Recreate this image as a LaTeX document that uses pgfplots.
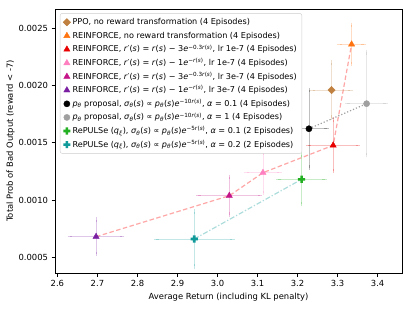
\documentclass[border=0pt]{standalone}
\usepackage{fontspec}
\setmainfont{DejaVu Sans}
\usepackage{pgfplots}
\pgfplotsset{compat=1.18}
\definecolor{cppo}{HTML}{C08040}
\definecolor{corange}{HTML}{FF7410}
\definecolor{cred}{HTML}{E80000}
\definecolor{cpink}{HTML}{FF80C0}
\definecolor{cmag}{HTML}{C41488}
\definecolor{cpur}{HTML}{7A1FA2}
\definecolor{cblack}{HTML}{000000}
\definecolor{cgrey}{HTML}{A0A0A0}
\definecolor{cgreen}{HTML}{22B022}
\definecolor{cteal}{HTML}{119A9A}
\pgfdeclareplotmark{fatplus}{%
  \pgfpathmoveto{\pgfqpoint{-0.36\pgfplotmarksize}{\pgfplotmarksize}}%
  \pgfpathlineto{\pgfqpoint{0.36\pgfplotmarksize}{\pgfplotmarksize}}%
  \pgfpathlineto{\pgfqpoint{0.36\pgfplotmarksize}{0.36\pgfplotmarksize}}%
  \pgfpathlineto{\pgfqpoint{\pgfplotmarksize}{0.36\pgfplotmarksize}}%
  \pgfpathlineto{\pgfqpoint{\pgfplotmarksize}{-0.36\pgfplotmarksize}}%
  \pgfpathlineto{\pgfqpoint{0.36\pgfplotmarksize}{-0.36\pgfplotmarksize}}%
  \pgfpathlineto{\pgfqpoint{0.36\pgfplotmarksize}{-\pgfplotmarksize}}%
  \pgfpathlineto{\pgfqpoint{-0.36\pgfplotmarksize}{-\pgfplotmarksize}}%
  \pgfpathlineto{\pgfqpoint{-0.36\pgfplotmarksize}{-0.36\pgfplotmarksize}}%
  \pgfpathlineto{\pgfqpoint{-\pgfplotmarksize}{-0.36\pgfplotmarksize}}%
  \pgfpathlineto{\pgfqpoint{-\pgfplotmarksize}{0.36\pgfplotmarksize}}%
  \pgfpathlineto{\pgfqpoint{-0.36\pgfplotmarksize}{0.36\pgfplotmarksize}}%
  \pgfpathclose
  \pgfusepathqfill}
\newcommand{\mi}[1]{\textit{#1}}
\newcommand{\rs}{\mi{r}(\mi{s})}
\pgfplotsset{
  ebar/.style={only marks, color=#1,
    error bars/.cd, x dir=both, x explicit, y dir=both, y explicit,
    error bar style={color=#1, opacity=0.25, line width=0.9pt},
    error mark options={color=#1, opacity=0.25, mark size=2.3pt, line width=0.9pt},
    /pgfplots/.cd},
}
\begin{document}
\begin{tikzpicture}
\begin{axis}[
  scale only axis, width=347pt, height=264pt,
  xmin=2.594, xmax=3.461, ymin=0.000363, ymax=0.002669,
  xtick={2.6,2.7,2.8,2.9,3.0,3.1,3.2,3.3,3.4},
  ytick={0.0005,0.001,0.0015,0.002,0.0025},
  scaled y ticks=false, scaled x ticks=false,
  xticklabel style={/pgf/number format/.cd, fixed, fixed zerofill, precision=1},
  yticklabel style={/pgf/number format/.cd, fixed, fixed zerofill, precision=4},
  /pgf/number format/assume math mode=true,
  tick label style={font=\fontsize{8.4}{10}\selectfont},
  label style={font=\fontsize{8.4}{10}\selectfont},
  xlabel={Average Return (including KL penalty)},
  ylabel={Total Prob of Bad Output (reward < -7)},
  ylabel style={yshift=-3pt},
  tick align=outside, xtick pos=bottom, ytick pos=left, major tick length=3.5pt,
  axis line style={line width=0.8pt},
  every tick/.style={black, line width=0.8pt},
  legend style={at={(0.0144,0.984)}, anchor=north west, draw=black!20, rounded corners=2pt,
    fill=white, font=\fontsize{8.1}{9.7}\selectfont, row sep=0pt, inner xsep=3pt, inner ysep=2pt,
    nodes={inner ysep=1.7pt, text height=7.6pt, text depth=2.6pt},
    /tikz/every even column/.append style={column sep=8pt}},
  legend cell align=left,
]
% connecting lines
\addplot[forget plot, red, opacity=0.35, line width=1.2pt, dash pattern=on 4.5pt off 2.5pt] coordinates {
 (2.6966,0.00068) (3.0295,0.001038) (3.1136,0.001239) (3.289,0.001478) (3.335,0.00236)};
\addplot[forget plot, cgrey, line width=1.2pt, dash pattern=on 1.2pt off 2pt] coordinates {
 (3.2285,0.001623) (3.3725,0.001842)};
\addplot[forget plot, cteal, opacity=0.35, line width=1.2pt, dash pattern=on 5pt off 2pt on 1.2pt off 2pt] coordinates {
 (2.942,0.00066) (3.210,0.001181)};
% series
\addplot[ebar=cppo, mark=square*, mark size=2.6pt, mark options={rotate=45}] table[x=x,y=y,x error=ex,y error=ey]{
x y ex ey
3.285 0.001961 0.047 0.00024
};
\addlegendentry{PPO, no reward transformation (4 Episodes)}
\addplot[ebar=corange, mark=triangle*, mark size=3.6pt] table[x=x,y=y,x error=ex,y error=ey]{
x y ex ey
3.335 0.00236 0.030 0.00017
};
\addlegendentry{REINFORCE, no reward transformation (4 Episodes)}
\addplot[ebar=cred, mark=triangle*, mark size=3.6pt] table[x=x,y=y,x error=ex,y error=ey]{
x y ex ey
3.289 0.001478 0.062 0.000225
};
\addlegendentry{REINFORCE, \mi{r}′(\mi{s}) = \rs{} − 3\mi{e}\textsuperscript{−0.3\rs}, lr 1e-7 (4 Episodes)}
\addplot[ebar=cpink, mark=triangle*, mark size=3.6pt] table[x=x,y=y,x error=ex,y error=ey]{
x y ex ey
3.1136 0.001239 0.041 0.000177
};
\addlegendentry{REINFORCE, \mi{r}′(\mi{s}) = \rs{} − 1\mi{e}\textsuperscript{−\rs}, lr 1e-7 (4 Episodes)}
\addplot[ebar=cmag, mark=triangle*, mark size=3.6pt] table[x=x,y=y,x error=ex,y error=ey]{
x y ex ey
3.0295 0.001038 0.077 0.000165
};
\addlegendentry{REINFORCE, \mi{r}′(\mi{s}) = \rs{} − 3\mi{e}\textsuperscript{−0.3\rs}, lr 3e-7 (4 Episodes)}
\addplot[ebar=cpur, mark=triangle*, mark size=3.6pt] table[x=x,y=y,x error=ex,y error=ey]{
x y ex ey
2.6966 0.00068 0.065 0.00015
};
\addlegendentry{REINFORCE, \mi{r}′(\mi{s}) = \rs{} − 1\mi{e}\textsuperscript{−\rs}, lr 3e-7 (4 Episodes)}
\addplot[ebar=cblack, mark=*, mark size=3.1pt] table[x=x,y=y,x error=ex,y error=ey]{
x y ex ey
3.2285 0.001623 0.044 0.00034
};
\addlegendentry{\mi{p}\textsubscript{\mi{θ}} proposal, \mi{σ}\textsubscript{\mi{θ}}(\mi{s}) ∝ \mi{p}\textsubscript{\mi{θ}}(\mi{s})\mi{e}\textsuperscript{−10\rs}, \mi{α} = 0.1 (4 Episodes)}
\addplot[ebar=cgrey, mark=*, mark size=3.1pt] table[x=x,y=y,x error=ex,y error=ey]{
x y ex ey
3.3725 0.001842 0.048 0.000447
};
\addlegendentry{\mi{p}\textsubscript{\mi{θ}} proposal, \mi{σ}\textsubscript{\mi{θ}}(\mi{s}) ∝ \mi{p}\textsubscript{\mi{θ}}(\mi{s})\mi{e}\textsuperscript{−10\rs}, \mi{α} = 1 (4 Episodes)}
\addplot[ebar=cgreen, mark=fatplus, mark size=3.6pt] table[x=x,y=y,x error=ex,y error=ey]{
x y ex ey
3.210 0.001181 0.058 0.000215
};
\addlegendentry{RePULSe (\mi{q}\textsubscript{\mi{ξ}}), \mi{σ}\textsubscript{\mi{θ}}(\mi{s}) ∝ \mi{p}\textsubscript{\mi{θ}}(\mi{s})\mi{e}\textsuperscript{−5\rs}, \mi{α} = 0.1 (2 Episodes)}
\addplot[ebar=cteal, mark=fatplus, mark size=3.6pt] table[x=x,y=y,x error=ex,y error=ey]{
x y ex ey
2.942 0.00066 0.095 0.00024
};
\addlegendentry{RePULSe (\mi{q}\textsubscript{\mi{ξ}}), \mi{σ}\textsubscript{\mi{θ}}(\mi{s}) ∝ \mi{p}\textsubscript{\mi{θ}}(\mi{s})\mi{e}\textsuperscript{−5\rs}, \mi{α} = 0.2 (2 Episodes)}
\end{axis}
\path (current axis.south west) ++(-55pt,-36pt);
\path (current axis.north east) ++(10pt,9pt);
\end{tikzpicture}
\end{document}
